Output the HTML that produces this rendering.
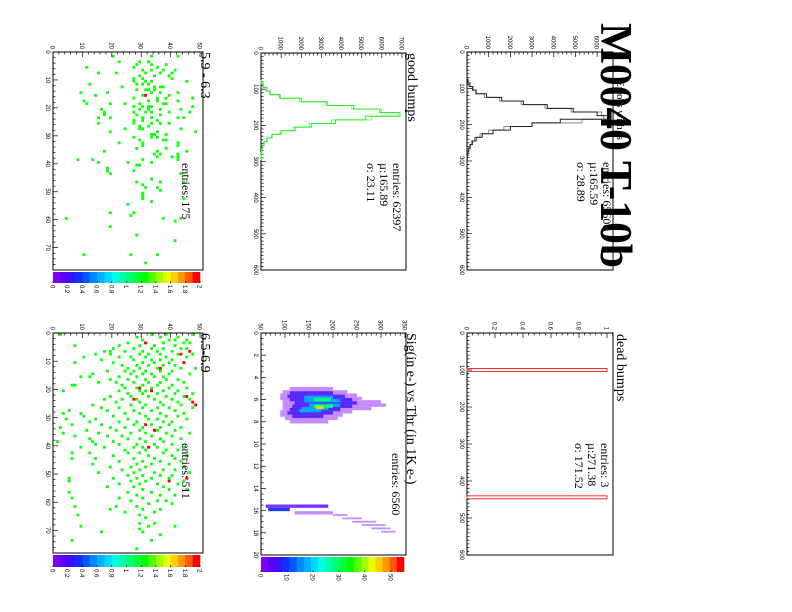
<!DOCTYPE html>
<html><head><meta charset="utf-8"><style>
html,body{margin:0;padding:0;background:#fff;}
svg{display:block;}
text{font-family:"Liberation Serif",serif;}
.tk{font-family:"Liberation Sans",sans-serif;font-size:6px;}
</style></head><body>
<svg id="c" width="792" height="612" viewBox="0 0 792 612" xmlns="http://www.w3.org/2000/svg">
<rect width="792" height="612" fill="#fff"/>
<g id="g"></g>
</svg>
<script>
// ---------- data ----------
const histBins = [80,90,100,110,120,130,140,150,160,170,180,190,200,210,220,230,240,250,260,270,280,290];
const allBlack = [30,100,250,420,900,1600,2600,3700,4900,6000,6600,4300,3000,2000,1200,700,420,250,150,80,40,15];
const allGray  = [60,150,280,400,800,1500,2500,3600,4800,6200,6300,5300,3000,1700,1000,600,350,200,120,60,30,10];
const goodGreen = [0,100,280,450,950,2000,3300,4600,5900,6900,5200,3700,2500,1700,1000,550,300,150,70,30,10,0];
const goodLight = [0,120,300,430,900,1900,3200,4500,6000,6800,5500,3500,2400,1600,950,520,280,140,60,25,10,0];
const deadBins = [100,444];
const deadVals = [1,1];
const countTicks = [0,1000,2000,3000,4000,5000,6000,7000];
const binTicks = [0,100,200,300,400,500,600];
const fracTicks = [0,0.2,0.4,0.6,0.8,1];
const thrTicks = [0,2,4,6,8,10,12,14,16,18,20];
const sigTicks = [50,100,150,200,250,300,350];
const scBinTicks = [0,10,20,30,40,50,60,70];
const scValTicks = [0,10,20,30,40,50];
const zTicks = [0,0.2,0.4,0.6,0.8,1,1.2,1.4,1.6,1.8,2];
const sigZTicks = [0,10,20,30,40,50];
// 2D bands: thr, sigLo, sigHi, count
const bandThr  = [5.0,5.3,5.6,5.9,6.2,6.5,6.8,7.1,7.4,7.7,8.0, 5.4,5.7,6.0,6.3,6.6,6.9,7.2,7.5, 5.8,6.1,6.5,6.8,7.0, 6.0,6.6, 6.7, 15.6,15.9,16.2,16.4,16.7,17.0,17.3,17.6,17.9];
const bandLo   = [110,95,90,90,95,95,95,90,90,100,110, 110,105,110,120,115,110,105,115, 140,140,150,135,130, 160,160, 165, 60,65,120,200,220,240,260,280,300];
const bandHi   = [200,230,250,260,300,310,280,240,220,210,190, 200,225,240,250,240,215,200,180, 200,215,215,190,175, 195,200, 180, 190,110,200,230,260,290,310,320,330];
const bandCnt  = [2,2,2,2,2,2,2,2,2,2,2, 8,8,8,8,8,8,8,8, 18,18,18,18,18, 30,30, 45, 3,10,2,1,1,1,1,1,1];
// scatter E (bin, value)
const eBin = [1,1,1,3,3,3,4,4,4,5,5,5,6,6,6,6,7,7,7,7,7,8,8,8,9,9,9,10,10,10,10,11,11,11,11,12,12,12,12,13,13,13,13,14,14,14,14,14,15,15,15,15,16,16,16,16,17,17,17,17,18,18,18,18,18,18,19,19,19,19,19,20,20,20,20,20,21,21,21,21,21,21,22,22,22,23,23,23,23,23,23,24,24,24,25,25,25,25,25,26,26,27,27,27,27,28,28,28,29,29,29,30,30,30,31,31,31,32,32,32,33,33,34,34,35,35,35,36,36,36,37,37,37,38,38,38,38,39,39,39,40,40,41,42,42,43,43,45,46,46,46,47,48,48,49,50,51,52,52,53,54,57,57,58,59,59,59,60,62,65,67,72,72,72,75];
const eVal = [33,42,20,22,29,32,28,33,38,11,27,35,30,33,37,41,15,21,31,36,40,29,34,39,27,30,40,27,31,33,45,12,28,30,32,23,34,36,37,28,31,32,34,9,18,33,36,42,14,30,31,39,27,35,38,47,10,32,35,42,11,19,24,29,37,38,27,30,32,33,47,16,29,32,36,43,17,27,31,33,39,46,17,28,36,15,19,30,33,42,44,27,30,35,15,27,33,36,39,29,32,24,29,30,43,19,35,48,33,34,38,27,33,35,29,37,38,22,30,42,30,42,28,38,17,35,45,34,36,42,35,40,42,8,13,30,42,15,25,33,28,29,18,18,27,19,43,33,28,36,44,30,31,35,36,30,30,30,44,33,25,19,27,26,4,37,43,41,19,28,41,10,26,35,31];
const eRedBin = [15]; const eRedVal = [31];
// scatter F
const fBin = [0,0,0,0,1,1,1,2,2,2,2,3,3,3,3,3,4,4,4,4,4,5,5,5,5,5,5,6,6,6,6,6,6,7,7,7,7,7,7,7,8,8,8,8,8,8,9,9,9,9,9,10,10,10,10,10,10,11,11,11,11,11,12,12,12,12,12,13,13,13,13,13,13,14,14,14,14,14,14,15,15,15,15,15,15,16,16,16,16,16,17,17,17,17,17,17,18,18,18,18,18,18,19,19,19,19,19,20,20,20,20,20,20,21,21,21,21,21,22,22,22,22,22,23,23,23,23,23,23,24,24,24,24,25,25,25,25,25,26,26,26,26,26,26,27,27,27,27,27,28,28,28,28,28,28,29,29,29,29,29,30,30,30,30,30,30,31,31,31,31,31,32,32,32,32,32,33,33,33,33,33,33,34,34,34,34,34,35,35,35,35,35,35,36,36,36,36,36,37,37,37,37,37,38,38,38,38,38,39,39,39,39,39,40,40,40,40,40,40,41,41,41,41,42,42,42,42,42,43,43,43,43,44,44,44,44,44,45,45,45,45,46,46,46,46,47,47,47,47,48,48,48,48,49,49,49,49,50,50,50,50,51,51,51,51,51,52,52,52,52,53,53,53,53,54,54,54,55,55,55,56,56,56,57,57,57,58,58,58,59,59,59,60,60,61,61,61,62,62,62,63,63,64,64,65,67,67,68,68,68,69,70,70,71,73,73,76];
const fVal = [2,33,38,47,28,36,42,30,39,41,45,25,31,37,44,46,7,22,29,34,41,20,27,33,37,43,45,17,19,24,30,35,40,14,19,29,32,36,42,47,10,22,26,31,38,45,16,27,33,36,40,7,20,30,34,39,44,23,28,32,37,41,25,29,35,43,48,18,24,27,31,36,40,13,26,30,33,39,46,9,12,22,28,34,37,19,25,31,38,42,15,21,27,32,36,44,6,7,23,30,35,40,24,28,33,39,45,3,22,29,31,37,42,25,30,35,41,47,19,26,32,38,44,17,23,28,34,40,46,21,29,36,42,13,26,31,37,43,16,22,30,35,39,47,5,18,27,33,41,3,9,24,29,36,44,10,20,31,38,42,4,14,25,32,35,45,12,22,28,37,40,6,16,27,33,39,2,19,24,30,36,43,11,21,29,35,41,3,15,26,31,38,46,7,18,23,33,40,12,25,29,36,43,1,13,20,31,37,14,22,28,34,40,9,17,27,30,35,44,24,31,38,42,6,12,25,29,37,20,32,40,45,6,14,27,34,41,22,30,36,43,13,28,33,39,19,26,31,44,23,29,37,41,15,27,34,46,25,30,36,40,5,20,28,33,39,5,26,31,44,22,29,35,42,18,27,37,30,39,45,5,25,33,28,36,41,6,22,30,26,35,38,32,40,7,21,28,19,30,36,24,34,8,29,31,29,34,9,32,41,29,16,30,36,6,33,28];
const fRedBin = [3,7,6,10,12,19,20,22,23,24,25,32,34,40,51,52];
const fRedVal = [31,43,46,44,36,29,33,45,27,47,48,31,34,32,45,39];

// ---------- drawing ----------
const NS='http://www.w3.org/2000/svg';
const G=document.getElementById('g');
const pal=["#8000ff","#5c00ff","#3a10ff","#1030ff","#0058ff","#0088ff","#00b0ff","#00d8ff","#00ffe0","#00ffa8","#00ff70","#00ff38","#00ff00","#50ff00","#a0ff00","#e8ff00","#ffd000","#ff9800","#ff5800","#ff0000"];
function el(tag,attrs,parent){const e=document.createElementNS(NS,tag);for(const k in attrs)e.setAttribute(k,attrs[k]);(parent||G).appendChild(e);return e;}
function rtext(x,y,str,size,anchor,parent,name,extra){
  const t=el('text',Object.assign({transform:`translate(${x},${y}) rotate(90)`,'font-size':size,'text-anchor':anchor||'start',fill:'#000'},extra||{}),parent);
  t.textContent=str;
  
  
  return t;
}
function panel(p){
  const g=el('g',{});
  
  
  p.g=g;
  p.Y=b=>p.y0+(b-p.bmin)/(p.bmax-p.bmin)*(p.y1-p.y0);
  p.X=v=>p.x0+(v-p.vmin)/(p.vmax-p.vmin)*(p.x1-p.x0);
  return p;
}
function frame(p){
  const r=el('rect',{x:p.x0,y:p.y0,width:p.x1-p.x0,height:p.y1-p.y0,fill:'none',stroke:'#000','stroke-width':1},p.g);
  
  
  const bt=p.bTicks, step=(bt[1]-bt[0])/p.bMinor;
  for(let b=bt[0]; b<=p.bmax+1e-9; b+=step){
    const major=Math.abs((b-bt[0])/(bt[1]-bt[0])-Math.round((b-bt[0])/(bt[1]-bt[0])))<1e-6;
    const y=p.Y(b);
    el('line',{x1:p.x0,x2:p.x0+(major?5:2.5),y1:y,y2:y,stroke:'#000','stroke-width':0.7},p.g);
  }
  bt.forEach(b=>{rtext(p.x0-7,p.Y(b),String(b),6,'middle',p.g,'x-tick-label',{class:'tk'});});
  const vt=p.vTicks, vstep=(vt[1]-vt[0])/p.vMinor;
  for(let v=vt[0]; v<=p.vmax+1e-9; v+=vstep){
    const major=Math.abs((v-vt[0])/(vt[1]-vt[0])-Math.round((v-vt[0])/(vt[1]-vt[0])))<1e-6;
    const x=p.X(v);
    el('line',{x1:x,x2:x,y1:p.y0,y2:p.y0+(major?5:2.5),stroke:'#000','stroke-width':0.7},p.g);
  }
  vt.forEach(v=>{rtext(p.X(v)-2.5,p.y0-3,String(v),6,'end',p.g,'y-tick-label',{class:'tk'});});
}
function hist(p,bins,vals,color,w,name){
  let d='';
  bins.forEach((b,i)=>{
    const ya=p.Y(b-w/2), yb=p.Y(b+w/2), x=p.X(Math.min(vals[i],p.vmax*1.02));
    if(i===0) d+=`M${p.X(0)},${ya}`;
    d+=`L${x},${ya}L${x},${yb}`;
    if(i===bins.length-1) d+=`L${p.X(0)},${yb}`;
  });
  const pa=el('path',{d:d,fill:'none',stroke:color,'stroke-width':1},p.g);
  
  
}
function colIdx(c,zmax){return Math.max(0,Math.min(19,Math.floor(c/zmax*20-1e-9)));}
function colorbar(p,x0,x1,y0,y1,zmax,ticks){
  const g=el('g',{},p.g);
  
  
  for(let i=0;i<20;i++){
    el('rect',{x:x0+(x1-x0)*i/20,y:y0,width:(x1-x0)/20+0.3,height:y1-y0,fill:pal[i]},g);
  }
  ticks.forEach(t=>{
    const x=x0+(x1-x0)*t/zmax;
    el('line',{x1:x,x2:x,y1:y1,y2:y1-2,stroke:'#000','stroke-width':0.6},g);
    rtext(x-2.5,y1+2,String(t),6,'start',g,'color-scale-label',{class:'tk'});
  });
}
function stats(x,y,lines,size,parent){
  lines.forEach((s,i)=>rtext(x-i*13,y,s,size,'start',parent,'stats-line'));
}

rtext(601,23,'M0040 T-10b',45,'start',G,'canvas-title',{'font-weight':'bold',textLength:245,lengthAdjust:'spacingAndGlyphs'});

const A=panel({name:'all-bumps-panel',x0:467,x1:613,y0:52,y1:270,bmin:0,bmax:600,vmin:0,vmax:6730,bTicks:binTicks,bMinor:10,vTicks:countTicks.slice(0,7),vMinor:5});
frame(A);
hist(A,histBins,allGray,'#888',10,'all-gray-hist');
hist(A,histBins,allBlack,'#222',10,'all-black-hist');
rtext(617,80,'Errors with ts',11,'start',A.g,'panel-title');
stats(603,162,['entries: 65600','\u00b5:165.59','\u03c3: 28.89'],12,A.g);

const B=panel({name:'good-bumps-panel',x0:261,x1:406,y0:53,y1:270,bmin:0,bmax:600,vmin:0,vmax:7200,bTicks:binTicks,bMinor:10,vTicks:countTicks,vMinor:5});
frame(B);
hist(B,histBins,goodLight,'#90ee90',10,'good-light-hist');
hist(B,histBins,goodGreen,'#22ee22',10,'good-green-hist');
rtext(408,53,'good bumps',14,'start',B.g,'panel-title');
stats(393,163,['entries: 62397','\u00b5:165.89','\u03c3: 23.11'],12,B.g);

const C=panel({name:'dead-bumps-panel',x0:467,x1:613,y0:333,y1:555,bmin:0,bmax:600,vmin:0,vmax:1.043,bTicks:binTicks,bMinor:10,vTicks:fracTicks,vMinor:5});
frame(C);
deadBins.forEach((b,i)=>{
  const r=el('rect',{x:C.X(0),y:C.Y(b-4),width:C.X(deadVals[i])-C.X(0),height:C.Y(b+4)-C.Y(b-4),fill:'none',stroke:'#e33','stroke-width':1},C.g);
  
  
});
rtext(617,334,'dead bumps',14,'start',C.g,'panel-title');
stats(601,443,['entries:  3','\u00b5:271.38','\u03c3: 171.52'],12,C.g);

const D=panel({name:'sig-vs-thr-panel',x0:261,x1:406,y0:333,y1:555,bmin:0,bmax:20,vmin:50,vmax:352,bTicks:thrTicks,bMinor:4,vTicks:sigTicks,vMinor:5});
bandThr.forEach((t,i)=>{
  const half = bandCnt[i]<2 ? 0.08 : 0.15;
  const op = bandCnt[i]<=2 ? 0.45 : (bandCnt[i]<=8 ? 0.8 : 0.95);
  const r=el('rect',{x:D.X(bandLo[i]),y:D.Y(t-half),width:D.X(bandHi[i])-D.X(bandLo[i]),height:D.Y(t+half)-D.Y(t-half),fill:pal[colIdx(bandCnt[i],55)],opacity:op},D.g);
  
  
});
frame(D);
colorbar(D,261,404,557,572,55,sigZTicks);
rtext(407,333,'Sig(in e-) vs Thr (in 1K e-)',14,'start',D.g,'panel-title');
stats(392,453,['entries: 6560'],12,D.g);

function scatter(p,bins,vals,rb,rv){
  bins.forEach((b,i)=>{
    const r=el('rect',{x:p.X(vals[i]),y:p.Y(b),width:p.X(1)-p.X(0),height:p.Y(1)-p.Y(0),fill:'#11ff11'},p.g);
    
    
  });
  rb.forEach((b,i)=>{
    const r=el('rect',{x:p.X(rv[i]),y:p.Y(b),width:p.X(1)-p.X(0),height:p.Y(1)-p.Y(0),fill:pal[19]},p.g);
    
    
  });
}
const E=panel({name:'range-5.9-6.3-panel',x0:53,x1:203,y0:52,y1:270,bmin:0,bmax:78,vmin:0,vmax:51,bTicks:scBinTicks,bMinor:5,vTicks:scValTicks,vMinor:5});
scatter(E,eBin,eVal,eRedBin,eRedVal);
frame(E);
colorbar(E,53,200,272,283,2,zTicks);
rtext(201,52,'5.9 - 6.3',14,'start',E.g,'panel-title');
stats(182,163,['entries: 175'],12,E.g);

const F=panel({name:'range-6.5-6.9-panel',x0:53,x1:203,y0:333,y1:553,bmin:0,bmax:78,vmin:0,vmax:51,bTicks:scBinTicks,bMinor:5,vTicks:scValTicks,vMinor:5});
scatter(F,fBin,fVal,fRedBin,fRedVal);
frame(F);
colorbar(F,53,200,555,567,2,zTicks);
rtext(201,333,'6.5-6.9',14,'start',F.g,'panel-title');
stats(182,443,['entries: 511'],12,F.g);
</script>
</body></html>
